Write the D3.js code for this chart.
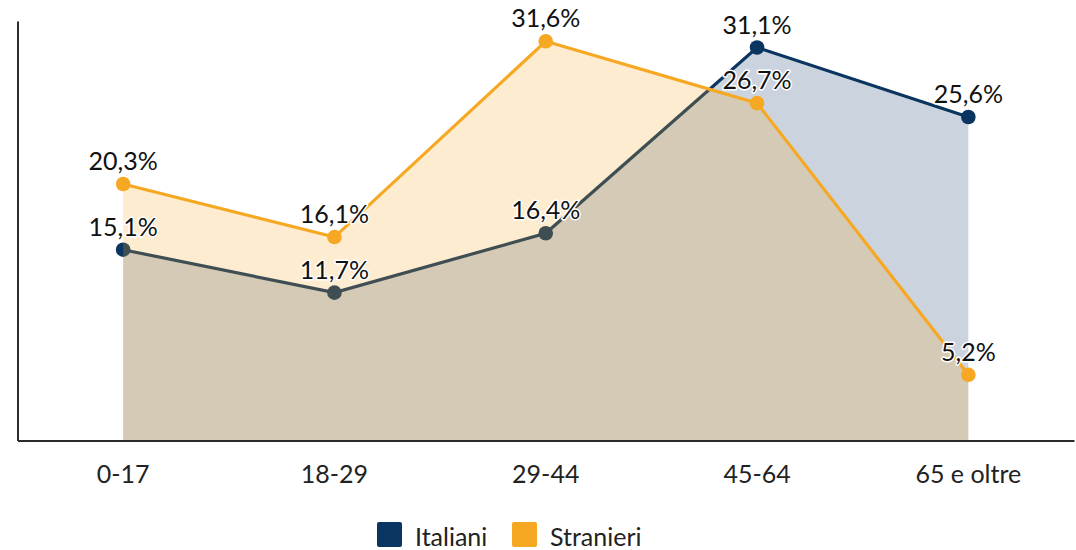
<!DOCTYPE html>
<html lang="it">
<head>
<meta charset="utf-8">
<title>Italiani e Stranieri per classe di età</title>
<script src="https://d3js.org/d3.v7.min.js"></script>
<style>
  body { margin: 0; background: #fff; }
  text { font-family: Lato, "Noto Sans", sans-serif; }
</style>
</head>
<body>
<script>
// dati
var categories = ["0-17", "18-29", "29-44", "45-64", "65 e oltre"];
var italiani = [15.1, 11.7, 16.4, 31.1, 25.6];
var stranieri = [20.3, 16.1, 31.6, 26.7, 5.2];
var seriesNames = ["Italiani", "Stranieri"];
var seriesColors = ["#0b3561", "#f7a823"];

var w = 1076, h = 550;
var mLeft = 17.5, mRight = 1074, mTop = 21, mBottom = 440.5;

var svg = d3.select("body").append("svg").attr("width", w).attr("height", h);

var x = d3.scaleBand().domain(categories).range([mLeft, mRight]);
var y = d3.scaleLinear().domain([0, 33.2]).range([mBottom, mTop]);
var cx = function(d, i) { return x(categories[i]) + x.bandwidth() / 2; };

var area = d3.area().x(cx).y0(y(0)).y1(function(d) { return y(d); });
var line = d3.line().x(cx).y(function(d) { return y(d); });

var series = [italiani, stranieri];

// Italiani: area, linea, punti
svg.append("path").datum(italiani).attr("d", area)
  .attr("fill", seriesColors[0]).attr("fill-opacity", 0.21);
svg.append("path").datum(italiani).attr("d", line)
  .attr("fill", "none").attr("stroke", seriesColors[0]).attr("stroke-width", 3.2);
svg.selectAll("circle.s0").data(italiani).enter().append("circle").attr("class", "s0")
  .attr("cx", cx).attr("cy", function(d) { return y(d); }).attr("r", 7.3).attr("fill", seriesColors[0]);

// Stranieri sopra, area semitrasparente
svg.append("path").datum(stranieri).attr("d", area)
  .attr("fill", seriesColors[1]).attr("fill-opacity", 0.22);
svg.append("path").datum(stranieri).attr("d", line)
  .attr("fill", "none").attr("stroke", seriesColors[1]).attr("stroke-width", 3.2);
svg.selectAll("circle.s1").data(stranieri).enter().append("circle").attr("class", "s1")
  .attr("cx", cx).attr("cy", function(d) { return y(d); }).attr("r", 7.3).attr("fill", seriesColors[1]);

// assi
var gx = svg.append("g").attr("transform", "translate(0," + mBottom + ")")
  .call(d3.axisBottom(x).tickSize(0));
gx.select(".domain").attr("stroke", "#2b2b2b").attr("stroke-width", 2);
gx.selectAll("text").attr("y", 42).attr("dy", 0)
  .attr("font-size", 25).attr("fill", "#222").attr("font-family", "Lato, sans-serif");

var gy = svg.append("g").attr("transform", "translate(" + mLeft + ",0)")
  .call(d3.axisLeft(y).tickValues([]).tickSize(0));
gy.select(".domain").attr("stroke", "#2b2b2b").attr("stroke-width", 2);

// etichette valori
var fmt = function(d) { return d.toFixed(1).replace(".", ",") + "%"; };
series.forEach(function(vals, s) {
  svg.selectAll("text.lab" + s).data(vals).enter().append("text").attr("class", "lab" + s)
    .attr("x", cx).attr("y", function(d) { return y(d) - 14; })
    .attr("text-anchor", "middle").attr("font-size", 25).attr("fill", "#111")
    .attr("stroke", "#fff").attr("stroke-width", 3).attr("paint-order", "stroke")
    .attr("stroke-linejoin", "round")
    .text(fmt);
});

// legenda
var legX = [377, 512];
var leg = svg.selectAll("g.leg").data(seriesNames).enter().append("g").attr("class", "leg")
  .attr("transform", function(d, i) { return "translate(" + legX[i] + ",522)"; });
leg.append("rect").attr("width", 25).attr("height", 25).attr("rx", 2)
  .attr("fill", function(d, i) { return seriesColors[i]; });
leg.append("text").attr("x", 38).attr("y", 24).attr("font-size", 25).attr("fill", "#222").text(function(d) { return d; });
</script>
</body>
</html>
